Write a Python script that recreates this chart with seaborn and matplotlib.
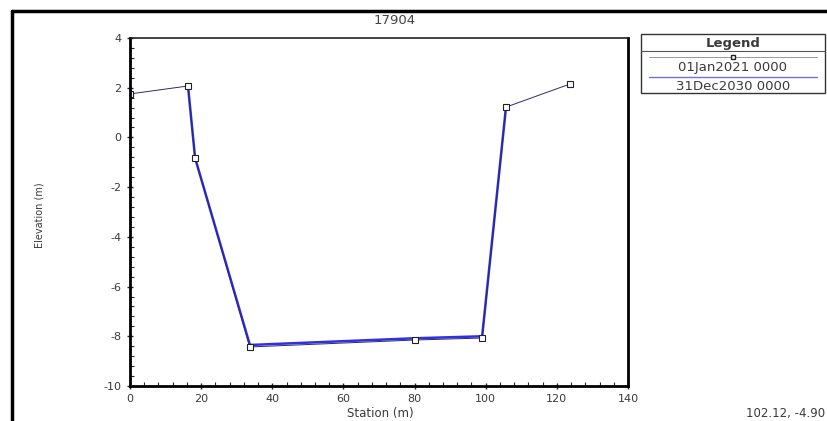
import matplotlib
matplotlib.use("Agg")
import matplotlib.pyplot as plt
import matplotlib.lines as mlines
from matplotlib.ticker import AutoMinorLocator, MultipleLocator
import numpy as np
import pandas as pd
import seaborn as sns

# cross-section data
station_2021 = [0.0, 16.3, 18.3, 33.7, 80.1, 99.0, 105.7, 123.7]
elev_2021 = [1.75, 2.07, -0.83, -8.43, -8.15, -8.07, 1.22, 2.15]

station_2030 = [16.3, 18.3, 33.7, 80.1, 99.0, 105.7]
elev_2030 = [2.07, -0.83, -8.35, -8.08, -8.0, 1.22]

legend_labels = ["01Jan2021 0000", "31Dec2030 0000"]
title = "17904"
coord_text = "102.12, -4.90"

sns.set_theme(style="white")
plt.rcParams["font.family"] = ["DejaVu Sans"]
plt.rcParams["axes.unicode_minus"] = False
TXT = "#3a3a3a"

fig = plt.figure(figsize=(8.27, 4.21), dpi=100)
ax = fig.add_axes([130 / 827, 1 - 386 / 421, 498 / 827, 348 / 421])

df30 = pd.DataFrame({"station": station_2030, "elev": elev_2030})
df21 = pd.DataFrame({"station": station_2021, "elev": elev_2021})

sns.lineplot(data=df30, x="station", y="elev", sort=False, color="#2f2fe8",
             linewidth=1.8, ax=ax)
sns.lineplot(data=df21, x="station", y="elev", sort=False, color="#2b2b6e",
             linewidth=0.7, marker="s", markersize=4, markerfacecolor="white",
             markeredgecolor="#222222", markeredgewidth=0.8, ax=ax)

ax.set_xlim(0, 140)
ax.set_ylim(-10, 4)
ax.xaxis.set_major_locator(MultipleLocator(20))
ax.yaxis.set_major_locator(MultipleLocator(2))
ax.xaxis.set_minor_locator(AutoMinorLocator(5))
ax.yaxis.set_minor_locator(AutoMinorLocator(5))
ax.tick_params(axis="both", which="major", direction="inout", length=5,
               width=1, labelsize=8, labelcolor=TXT, bottom=True, left=True)
ax.tick_params(axis="both", which="minor", direction="in", length=3,
               width=0.8, bottom=True, left=True)
for side in ["left", "bottom", "right"]:
    ax.spines[side].set_linewidth(2.0)
    ax.spines[side].set_color("black")
ax.spines["top"].set_linewidth(1.2)
ax.spines["top"].set_color("#222222")

ax.set_xlabel("")
ax.set_ylabel("")
fig.text(380 / 827, 1 - 414 / 421, "Station (m)", ha="center", va="center",
         fontsize=8.5, color=TXT)
fig.text(40 / 827, 1 - 215 / 421, "Elevation (m)", ha="center", va="center",
         rotation=90, fontsize=7, color=TXT)
fig.text(395 / 827, 1 - 20 / 421, title, ha="center", va="center",
         fontsize=9.5, color="#444444")
fig.text(825 / 827, 1 - 413 / 421, coord_text, ha="right", va="center",
         fontsize=8.5, color=TXT)

# outer frame of the window
fig.add_artist(mlines.Line2D([12 / 827, 12 / 827], [0, 1 - 11 / 421],
                             color="black", linewidth=2.5))
fig.add_artist(mlines.Line2D([12 / 827, 1], [1 - 11 / 421, 1 - 11 / 421],
                             color="black", linewidth=2.5))

# table-style legend
lx0, lx1 = 641 / 827, 825 / 827
ly_top, ly_bot = 1 - 34 / 421, 1 - 93 / 421
fig.add_artist(plt.Rectangle((lx0, ly_bot), lx1 - lx0, ly_top - ly_bot,
                             fill=False, edgecolor="#333333", linewidth=1.0,
                             transform=fig.transFigure))
ysep = 1 - 51 / 421
fig.add_artist(mlines.Line2D([lx0, lx1], [ysep, ysep], color="#555555",
                             linewidth=0.8))
lxc = (lx0 + lx1) / 2
fig.text(lxc, 1 - 43 / 421, "Legend", ha="center", va="center",
         fontsize=9.5, fontweight="bold", color=TXT)
y1 = 1 - 57 / 421
fig.add_artist(mlines.Line2D([lx0 + 0.01, lx1 - 0.01], [y1, y1],
                             color="#999999", linewidth=0.7))
fig.add_artist(mlines.Line2D([lxc], [y1], marker="s", markersize=3.5,
                             markerfacecolor="white",
                             markeredgecolor="#222222", linestyle="none"))
fig.text(lxc, 1 - 67 / 421, legend_labels[0], ha="center", va="center",
         fontsize=9.5, color=TXT)
y2 = 1 - 77 / 421
fig.add_artist(mlines.Line2D([lx0 + 0.01, lx1 - 0.01], [y2, y2],
                             color="#7070e0", linewidth=1.0))
fig.text(lxc, 1 - 86 / 421, legend_labels[1], ha="center", va="center",
         fontsize=9.5, color=TXT)

fig.savefig("out.png", dpi=100)
